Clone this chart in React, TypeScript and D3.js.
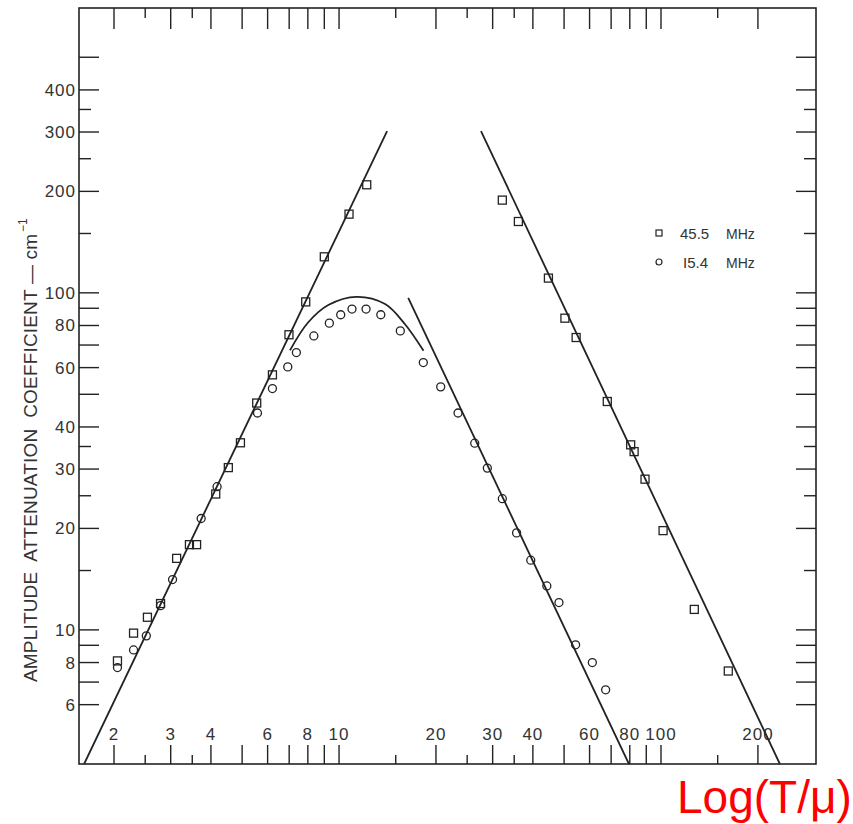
import React from "react";
import * as d3 from "d3";

// ---- data ----
const squares455: [number, number][] = [
  [2.05, 8.09], [2.30, 9.78], [2.54, 10.9], [2.79, 11.97], [3.13, 16.3], [3.43, 17.9],
  [3.61, 17.9], [4.14, 25.3], [4.53, 30.3], [4.94, 35.9], [5.55, 47.1], [6.21, 57.1],
  [6.99, 75.1], [7.88, 94.0], [9.0, 127.9], [10.74, 171.2], [12.19, 209.2],
  [32.15, 188.4], [36.06, 162.8], [44.7, 110.6], [50.3, 84.1], [54.5, 73.7], [68.1, 47.6],
  [80.5, 35.4], [82.5, 33.8], [89.2, 28.0], [101.5, 19.7], [126.9, 11.5], [161.8, 7.55],
];
const circles154: [number, number][] = [
  [2.05, 7.73], [2.30, 8.72], [2.52, 9.6], [2.79, 11.8], [3.04, 14.1], [3.73, 21.4],
  [4.18, 26.6], [5.58, 44.0], [6.21, 52.0], [6.93, 60.3], [7.37, 66.5], [8.35, 74.5],
  [9.33, 81.3], [10.12, 86.1], [10.97, 89.5], [12.13, 89.5], [13.48, 86.1], [15.5, 77.1],
  [18.27, 62.1], [20.69, 52.6], [23.42, 44.0], [26.39, 35.8], [28.88, 30.2], [32.15, 24.5],
  [35.6, 19.4], [39.4, 16.1], [44.2, 13.5], [48.2, 12.05], [54.3, 9.03], [61.2, 8.0],
  [67.3, 6.64],
];
const lineRise455: [number, number][] = [[1.615, 4], [14.1, 302]];
const lineFall455: [number, number][] = [[27.6, 302], [234, 4]];
const lineFall154: [number, number][] = [[16.4, 96.6], [79.5, 4]];
const curve154: [number, number][] = [
  [7.04, 67.5], [8.0, 81.5], [9.26, 92.0], [11.35, 97.3], [13.9, 92.6], [16.03, 80.7], [18.3, 67.3],
];

const xMajorTicks = [2, 3, 4, 5, 6, 7, 8, 9, 10, 20, 30, 40, 50, 60, 70, 80, 90, 100, 200];
const xMinorTicks = [2.5, 3.5, 15, 25, 35, 150];
const xTickLabels = [2, 3, 4, 6, 8, 10, 20, 30, 40, 60, 80, 100, 200];
const yMajorTicks = [6, 7, 8, 9, 10, 20, 30, 40, 50, 60, 70, 80, 90, 100, 200, 300, 400, 500];
const yMinorTicks = [15, 25, 35, 150, 250, 350];
const yTickLabels = [6, 8, 10, 20, 30, 40, 60, 80, 100, 200, 300, 400];
const legendItems = [
  { shape: "square", freq: "45.5", unit: "MHz" },
  { shape: "circle", freq: "I5.4", unit: "MHz" },
];

const W = 853, H = 824;
const L = 79, R = 816, T = 8, B = 764;
const INK = "#222";
const FONT = "'Liberation Sans', Arial, sans-serif";

export default function App() {
  const x = d3.scaleLog().domain([1.557, 303]).range([L, R]);
  const y = d3.scaleLog().domain([4, 700]).range([B, T]);
  const line = d3.line<[number, number]>().x((d) => x(d[0])).y((d) => y(d[1]));
  const smooth = d3.line<[number, number]>().x((d) => x(d[0])).y((d) => y(d[1])).curve(d3.curveCatmullRom.alpha(0.5));

  const xMajLen = 19, xMinLen = 9, yMajLen = 20, yMinLen = 12;

  return (
    <svg width={W} height={H} style={{ position: "absolute", left: 0, top: 0, background: "#fff" }}>
      {/* frame */}
      <rect x={L} y={T} width={R - L} height={B - T} fill="none" stroke={INK} strokeWidth={1.6} />

      {/* x ticks bottom & top */}
      {xMajorTicks.map((v) => (
        <g key={"xm" + v}>
          <line x1={x(v)} x2={x(v)} y1={B} y2={B - xMajLen} stroke={INK} strokeWidth={1.4} />
          <line x1={x(v)} x2={x(v)} y1={T} y2={T + xMajLen + 2} stroke={INK} strokeWidth={1.4} />
        </g>
      ))}
      {xMinorTicks.map((v) => (
        <g key={"xn" + v}>
          <line x1={x(v)} x2={x(v)} y1={B} y2={B - xMinLen} stroke={INK} strokeWidth={1.4} />
          <line x1={x(v)} x2={x(v)} y1={T} y2={T + xMinLen + 1} stroke={INK} strokeWidth={1.4} />
        </g>
      ))}
      {xTickLabels.map((v) => (
        <text key={"xl" + v} x={x(v)} y={740} textAnchor="middle" fontFamily={FONT} fontSize={17}
          letterSpacing={1} fill="#333">{v}</text>
      ))}

      {/* y ticks left & right */}
      {yMajorTicks.map((v) => (
        <g key={"ym" + v}>
          <line x1={L} x2={L + yMajLen} y1={y(v)} y2={y(v)} stroke={INK} strokeWidth={1.4} />
          <line x1={R} x2={R - yMajLen} y1={y(v)} y2={y(v)} stroke={INK} strokeWidth={1.4} />
        </g>
      ))}
      {yMinorTicks.map((v) => (
        <g key={"yn" + v}>
          <line x1={L} x2={L + yMinLen} y1={y(v)} y2={y(v)} stroke={INK} strokeWidth={1.4} />
          <line x1={R} x2={R - yMinLen} y1={y(v)} y2={y(v)} stroke={INK} strokeWidth={1.4} />
        </g>
      ))}
      {yTickLabels.map((v) => (
        <text key={"yl" + v} x={76} y={y(v) + 6} textAnchor="end" fontFamily={FONT} fontSize={17}
          letterSpacing={1} fill="#333">{v}</text>
      ))}

      {/* y axis title */}
      <g transform="translate(37,682) rotate(-90)">
        <text x={0} y={0} fontFamily={FONT} fontSize={19} fill="#333" textLength={448}
          lengthAdjust="spacing" style={{ whiteSpace: "pre" }}>
          {"AMPLITUDE  ATTENUATION  COEFFICIENT — cm"}
        </text>
        <text x={450} y={-10} fontFamily={FONT} fontSize={12} fill="#333">−1</text>
      </g>

      {/* fitted lines */}
      {[lineRise455, lineFall455, lineFall154].map((d, i) => (
        <path key={"ln" + i} d={line(d) || ""} fill="none" stroke={INK} strokeWidth={1.8} />
      ))}
      <path d={smooth(curve154) || ""} fill="none" stroke={INK} strokeWidth={1.8} />

      {/* data markers */}
      {squares455.map((d, i) => (
        <rect key={"s" + i} x={x(d[0]) - 4} y={y(d[1]) - 4} width={8} height={8} fill="none"
          stroke={INK} strokeWidth={1.3} />
      ))}
      {circles154.map((d, i) => (
        <circle key={"c" + i} cx={x(d[0])} cy={y(d[1])} r={4} fill="none" stroke={INK} strokeWidth={1.3} />
      ))}

      {/* legend */}
      {legendItems.map((it, i) => (
        <g key={"lg" + i} transform={`translate(0,${233 + i * 29})`}>
          {it.shape === "square" ? (
            <rect x={656} y={-3} width={6} height={6} fill="none" stroke={INK} strokeWidth={1.2} />
          ) : (
            <circle cx={659} cy={0} r={3} fill="none" stroke={INK} strokeWidth={1.2} />
          )}
          <text x={it.shape === "square" ? 680 : 683} y={5.5} fontFamily={FONT} fontSize={15} fill="#333">{it.freq}</text>
          <text x={726} y={5.5} fontFamily={FONT} fontSize={14} fill="#333">{it.unit}</text>
        </g>
      ))}

      {/* red x label */}
      <text x={677} y={813} fontFamily={FONT} fontSize={46} fill="#ff0000">Log(T/μ)</text>
    </svg>
  );
}
